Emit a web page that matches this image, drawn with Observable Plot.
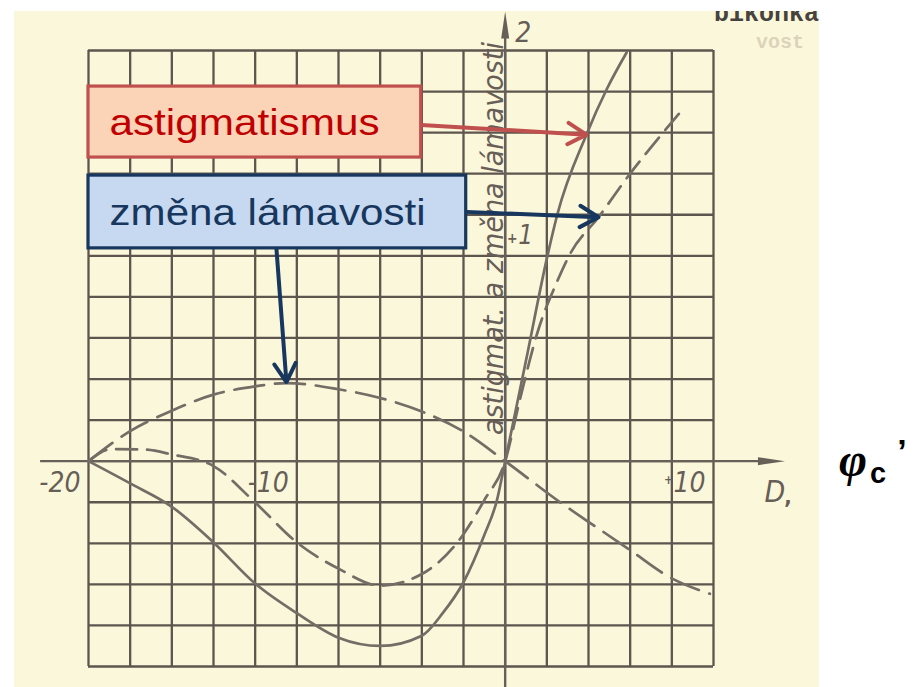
<!DOCTYPE html>
<html lang="cs">
<head>
<meta charset="utf-8">
<title>Astigmatismus a změna lámavosti</title>
<script src="https://cdn.jsdelivr.net/npm/d3@7"></script>
<script src="https://cdn.jsdelivr.net/npm/@observablehq/plot@0.6"></script>
<style>
  html, body { margin: 0; padding: 0; background: #ffffff; }
  #page { position: relative; width: 915px; height: 687px; overflow: hidden; }
  #paper { position: absolute; left: 14px; top: 11px; width: 805px; height: 676px; background: #fbf7db; overflow: hidden; }
  #paper svg { position: absolute; left: 0; top: 0; }
  #chart { position: absolute; left: 0; top: 0; }
</style>
</head>
<body>
<div id="page">
  <div id="paper">
    <svg width="805" height="676">
      <text x="700" y="10" font-family="Liberation Mono, monospace" font-weight="bold" font-size="25" fill="#46423d">bikonka</text>
      <text x="742" y="37" font-family="Liberation Mono, monospace" font-weight="bold" font-size="20" fill="#dcd4ba">vost</text>
    </svg>
  </div>
  <div id="chart"></div>
</div>
<script>
// Abscissa: refractive power D; graph-paper verticals every 2 D
const D_GRID = d3.range(-20, 11, 2);
const X_TICKS = [-20, -10, 10];
const X_TICK_LABELS = ["-20", "-10", "10"];
// Ordinate: astigmatism and change of refractive power
const Y_TICKS = [1, 2];
const Y_TICK_LABELS = ["1", "2"];
const CELL = 1 / 5.42; // one graph-paper square in ordinate units
const Y_GRID = d3.range(-5, 11).map(k => k * CELL);

// astigmatismus (solid)
const astigD = [-20, -18, -16, -14, -12, -10, -8, -6, -4, -3, -2, -1, -0.4, 0, 0.5, 1, 2, 2.5, 3.9, 4.88, 5.83];
const astigV = [0, -0.100, -0.205, -0.365, -0.550, -0.683, -0.793, -0.830, -0.784, -0.683, -0.544, -0.332, -0.177, 0, 0.225, 0.452, 0.910, 1.107, 1.467, 1.672, 1.836];

// změna lámavosti, branch rising to the right (short dashes)
const lamRiseD = [-20, -18.9, -17.3, -16, -14, -12, -10, -8, -6, -4, -2, -1, 0, 0.72, 1.58, 2.48, 3.12, 4.48, 6, 7.58, 8.54];
const lamRiseV = [0, 0.054, 0.052, 0.030, -0.022, -0.186, -0.365, -0.483, -0.559, -0.507, -0.328, -0.175, 0, 0.282, 0.587, 0.804, 0.932, 1.096, 1.292, 1.476, 1.583];

// změna lámavosti, branch with the hump (long dashes)
const lamHumpD = [-20, -18, -16, -14, -12, -10.5, -8, -6, -4, -2, 0, 2.64, 4.56, 6, 7.91, 9.83];
const lamHumpV = [0, 0.135, 0.227, 0.299, 0.336, 0.351, 0.323, 0.284, 0.223, 0.133, 0, -0.185, -0.308, -0.400, -0.522, -0.596];

const CALLOUT_LABELS = ["astigmatismus", "změna lámavosti"];

const rows = (xs, ys) => xs.map((D, i) => ({D, v: ys[i]}));
const astig = rows(astigD, astigV);
const lamRise = rows(lamRiseD, lamRiseV);
const lamHump = rows(lamHumpD, lamHumpV);

// Callout layout (data coordinates)
const boxes = [
  {label: CALLOUT_LABELS[0], x1: -20, x2: -4.03, y1: 1.364, y2: 1.683, fill: "#fbd3b6", stroke: "#c0504d", color: "#c00000"},
  {label: CALLOUT_LABELS[1], x1: -20, x2: -1.87, y1: 0.956, y2: 1.283, fill: "#c6d9f1", stroke: "#17375e", color: "#17375e"}
];
const pointers = [
  {x1: -4.03, y1: 1.51, x2: astigD[18], y2: astigV[18], stroke: "#c0504d"},
  {x1: -1.87, y1: 1.12, x2: lamRiseD[17], y2: lamRiseV[17], stroke: "#17375e"},
  {x1: -10.98, y1: 0.956, x2: lamHumpD[5], y2: lamHumpV[5] + 0.004, stroke: "#17375e"}
];

const INK = "#746c65";
const GRID = "#5d554e";
const AXIS = "#675f58";
const LABEL = "#665e57";
const X_END = 13.43, Y_END = 2.02, X_START = -22.3, Y_START = -1.03;
const stencil = '"Liberation Sans Narrow", "DejaVu Sans Condensed", "Liberation Sans", sans-serif';
const curve = "monotone-x";

// narrow filled arrowhead for the axes
const spike = {
  draw(ctx, l) { ctx.moveTo(0, -l); ctx.lineTo(4, 0); ctx.lineTo(-4, 0); ctx.closePath(); }
};

const chart = Plot.plot({
  width: 915,
  height: 687,
  margin: 0,
  style: {background: "transparent", overflow: "visible"},
  x: {domain: [-20, 10], range: [88, 713], axis: null},
  y: {domain: [-5 * CELL, 10 * CELL], range: [666, 50], axis: null},
  marks: [
    // graph paper
    Plot.ruleX(D_GRID, {y1: Y_GRID[0], y2: Y_GRID[Y_GRID.length - 1], stroke: GRID, strokeWidth: 2.3}),
    Plot.ruleY(Y_GRID, {x1: -20, x2: 10, stroke: GRID, strokeWidth: 2.3}),
    // axes with arrowheads
    Plot.ruleY([0], {x1: X_START, x2: X_END - 0.8, stroke: AXIS, strokeWidth: 2.4}),
    Plot.ruleX([0], {y1: Y_START, y2: Y_END - 0.08, stroke: AXIS, strokeWidth: 2.4}),
    Plot.vector([{x: X_END, y: 0, a: 90}, {x: 0, y: Y_END, a: 0}], {
      x: "x", y: "y", rotate: "a", length: 27, anchor: "end", shape: spike, fill: AXIS, stroke: "none"
    }),
    // curves
    Plot.line(lamHump, {x: "D", y: "v", curve, stroke: INK, strokeWidth: 2.7, strokeDasharray: "30,11"}),
    Plot.line(lamRise, {x: "D", y: "v", curve, stroke: INK, strokeWidth: 2.7, strokeDasharray: "21,10"}),
    Plot.line(astig, {x: "D", y: "v", curve, stroke: INK, strokeWidth: 2.7}),
    // tick labels
    Plot.text(X_TICKS, {x: d => d, y: 0, text: (d, i) => X_TICK_LABELS[i], textAnchor: "end", lineAnchor: "middle", dx: -8, dy: 22,
      fontFamily: stencil, fontStyle: "italic", fontSize: 28, fill: LABEL}),
    Plot.text([10], {x: d => d, y: 0, text: () => "+", textAnchor: "middle", lineAnchor: "middle", dx: -45, dy: 19,
      fontFamily: stencil, fontSize: 12, fontWeight: "bold", fill: LABEL}),
    Plot.text([Y_TICKS[0]], {x: 0, y: d => d, text: () => Y_TICK_LABELS[0], textAnchor: "start", lineAnchor: "middle", dx: 13, dy: -3,
      fontFamily: stencil, fontStyle: "italic", fontSize: 26, fill: LABEL}),
    Plot.text([Y_TICKS[0]], {x: 0, y: d => d, text: () => "+", textAnchor: "middle", lineAnchor: "middle", dx: 7, dy: 0,
      fontFamily: stencil, fontSize: 14, fontWeight: "bold", fill: LABEL}),
    Plot.text([Y_TICKS[1]], {x: 0, y: d => d, text: () => Y_TICK_LABELS[1], textAnchor: "start", lineAnchor: "middle", dx: 10, dy: 17,
      fontFamily: stencil, fontStyle: "italic", fontSize: 28, fill: LABEL}),
    Plot.text(["D"], {x: X_END, y: 0, text: d => d, textAnchor: "middle", lineAnchor: "middle", dx: -10, dy: 31,
      fontFamily: stencil, fontStyle: "italic", fontSize: 30, fill: LABEL}),
    Plot.text([","], {x: X_END, y: 0, text: d => d, textAnchor: "middle", lineAnchor: "middle", dx: 3, dy: 36,
      fontFamily: stencil, fontWeight: "bold", fontSize: 22, fill: LABEL}),
    Plot.text(["astigmat. a změna lámavosti"], {x: 0, y: Y_TICKS[0], text: d => d, rotate: -90, textAnchor: "middle", lineAnchor: "middle", dx: -11,
      fontFamily: stencil, fontStyle: "italic", fontSize: 28, fill: LABEL}),
    // φc′ beside the abscissa
    Plot.text(["φ"], {x: X_END, y: 0, text: d => d, textAnchor: "middle", lineAnchor: "bottom", dx: 68, dy: 15,
      fontFamily: '"Liberation Serif", serif', fontStyle: "italic", fontWeight: "bold", fontSize: 48, fill: "#000000"}),
    Plot.text(["c"], {x: X_END, y: 0, text: d => d, textAnchor: "middle", lineAnchor: "bottom", dx: 93, dy: 22,
      fontFamily: '"Liberation Sans", Arial, sans-serif', fontWeight: "bold", fontSize: 29, fill: "#000000"}),
    Plot.text(["’"], {x: X_END, y: 0, text: d => d, textAnchor: "middle", lineAnchor: "bottom", dx: 117, dy: 2,
      fontFamily: '"Liberation Sans", Arial, sans-serif', fontWeight: "bold", fontSize: 34, fill: "#000000"}),
    // callouts
    Plot.arrow(pointers, {x1: "x1", y1: "y1", x2: "x2", y2: "y2", stroke: "stroke", strokeWidth: 4, headLength: 8, headAngle: 60, strokeLinecap: "round"}),
    Plot.rect(boxes, {x1: "x1", x2: "x2", y1: "y1", y2: "y2", fill: "fill", stroke: "stroke", strokeWidth: 3.2}),
    Plot.text(boxes, {x: "x1", y: d => (d.y1 + d.y2) / 2, text: "label", fill: "color", dx: 21, dy: 1,
      textAnchor: "start", lineAnchor: "middle", fontFamily: '"Liberation Sans", Arial, sans-serif', fontSize: 36})
  ]
});

// stretch the wide captions to their drawn widths
const widths = new Map([["astigmatismus", 270], ["změna lámavosti", 316], ["astigmat. a změna lámavosti", 393]]);
d3.select(chart).selectAll("text").each(function () {
  const w = widths.get(this.textContent);
  if (w) {
    this.setAttribute("textLength", w);
    this.setAttribute("lengthAdjust", "spacingAndGlyphs");
  }
});

document.getElementById("chart").appendChild(chart);
</script>
</body>
</html>
